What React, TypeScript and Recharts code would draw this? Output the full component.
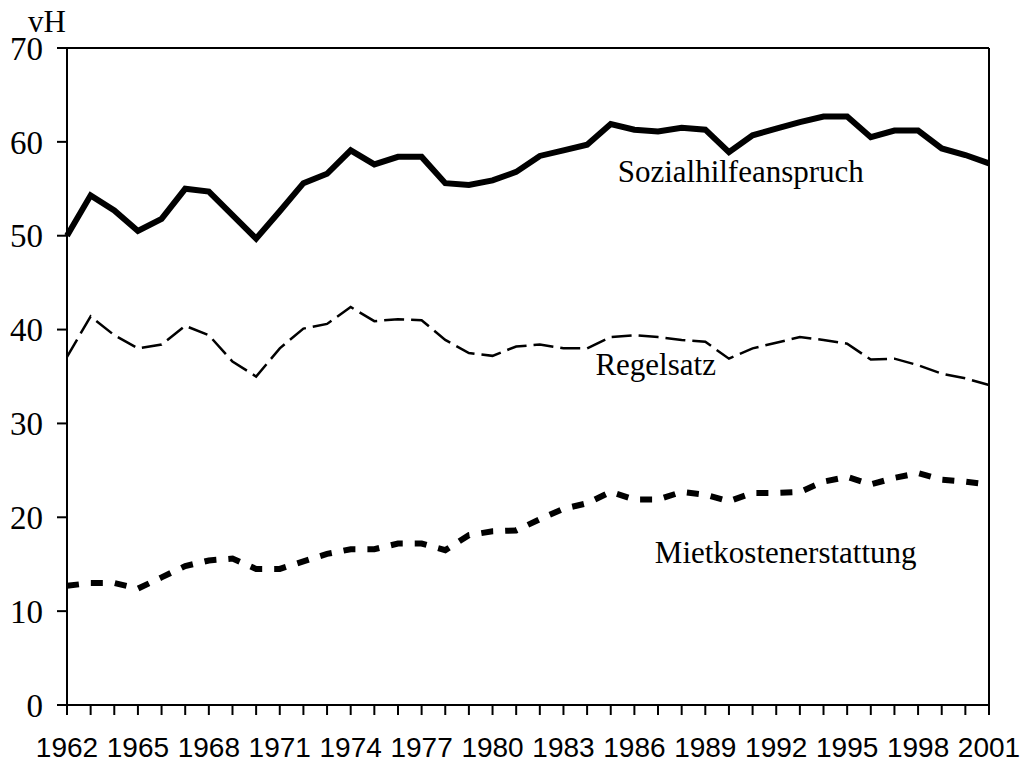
import { LineChart, Line, XAxis, YAxis, ReferenceLine, ReferenceDot } from "recharts";

const years = [
  1962, 1963, 1964, 1965, 1966, 1967, 1968, 1969, 1970, 1971, 1972, 1973, 1974,
  1975, 1976, 1977, 1978, 1979, 1980, 1981, 1982, 1983, 1984, 1985, 1986, 1987,
  1988, 1989, 1990, 1991, 1992, 1993, 1994, 1995, 1996, 1997, 1998, 1999, 2000,
  2001,
];

const sozialhilfeanspruch = [
  50.0, 54.3, 52.7, 50.5, 51.8, 55.0, 54.7, 52.2, 49.7, 52.6, 55.6, 56.6, 59.1,
  57.6, 58.4, 58.4, 55.6, 55.4, 55.9, 56.8, 58.5, 59.1, 59.7, 61.9, 61.3, 61.1,
  61.5, 61.3, 58.9, 60.7, 61.4, 62.1, 62.7, 62.7, 60.5, 61.2, 61.2, 59.3, 58.6,
  57.7,
];

const regelsatz = [
  37.1, 41.4, 39.4, 38.0, 38.4, 40.4, 39.4, 36.6, 35.0, 38.0, 40.1, 40.6, 42.4,
  40.9, 41.1, 41.0, 38.9, 37.5, 37.2, 38.2, 38.4, 38.0, 38.0, 39.2, 39.4, 39.2,
  38.9, 38.7, 36.9, 38.0, 38.6, 39.2, 38.9, 38.5, 36.8, 36.9, 36.2, 35.3, 34.8,
  34.1,
];

const mietkostenerstattung = [
  12.7, 13.0, 13.0, 12.4, 13.6, 14.8, 15.4, 15.6, 14.5, 14.5, 15.3, 16.1, 16.6,
  16.6, 17.2, 17.2, 16.5, 18.1, 18.5, 18.6, 19.8, 20.9, 21.5, 22.7, 21.9, 21.9,
  22.7, 22.4, 21.7, 22.6, 22.6, 22.7, 23.8, 24.3, 23.5, 24.2, 24.7, 24.0, 23.8,
  23.5,
];

const labelYears = [1962, 1965, 1968, 1971, 1974, 1977, 1980, 1983, 1986, 1989, 1992, 1995, 1998, 2001];
const yTicks = [0, 10, 20, 30, 40, 50, 60, 70];

const data = years.map((year, i) => ({
  year,
  sozial: sozialhilfeanspruch[i],
  regel: regelsatz[i],
  miet: mietkostenerstattung[i],
}));

const SERIF = "'Liberation Serif', 'Times New Roman', serif";
const SANS = "'Liberation Sans', Arial, sans-serif";

const seriesLabel = (text: string) => (props: any) => {
  const { viewBox } = props;
  return (
    <text
      x={viewBox.x + viewBox.width / 2}
      y={viewBox.y + viewBox.height / 2}
      dy={11}
      textAnchor="middle"
      fontFamily={SERIF}
      fontSize={31}
      fill="#000"
    >
      {text}
    </text>
  );
};

export default function App() {
  return (
    <div style={{ position: "absolute", left: 0, top: 0 }}>
      <LineChart
        width={1034}
        height={767}
        data={data}
        margin={{ top: 48, right: 45, bottom: 0, left: 0 }}
      >
        <XAxis
          dataKey="year"
          type="number"
          domain={[1962, 2001]}
          ticks={years}
          interval={0}
          height={62}
          tickSize={10}
          tickMargin={22}
          tickFormatter={(v: number) => (labelYears.includes(v) ? String(v) : "")}
          stroke="#000"
          strokeWidth={2}
          tick={{ fill: "#000", fontFamily: SANS, fontSize: 28 }}
        />
        <YAxis
          type="number"
          domain={[0, 70]}
          ticks={yTicks}
          interval={0}
          width={67}
          tickSize={10}
          tickMargin={14}
          stroke="#000"
          strokeWidth={2}
          tick={{ fill: "#000", fontFamily: SERIF, fontSize: 33 }}
          label={{
            content: () => (
              <text x={28} y={32} fontFamily={SERIF} fontSize={31} fill="#000">
                vH
              </text>
            ),
          }}
        />
        <ReferenceLine y={70} stroke="#000" strokeWidth={2} />
        <ReferenceLine x={2001} stroke="#000" strokeWidth={2} />
        <Line
          dataKey="sozial"
          type="linear"
          stroke="#000"
          strokeWidth={6}
          dot={false}
          isAnimationActive={false}
        />
        <Line
          dataKey="regel"
          type="linear"
          stroke="#000"
          strokeWidth={2.5}
          strokeDasharray="20 7"
          dot={false}
          isAnimationActive={false}
        />
        <Line
          dataKey="miet"
          type="linear"
          stroke="#000"
          strokeWidth={6}
          strokeDasharray="12 12"
          dot={false}
          isAnimationActive={false}
        />
        <ReferenceDot x={1990.5} y={56.9} r={0} fill="none" stroke="none" label={{ content: seriesLabel("Sozialhilfeanspruch") }} />
        <ReferenceDot x={1986.9} y={36.3} r={0} fill="none" stroke="none" label={{ content: seriesLabel("Regelsatz") }} />
        <ReferenceDot x={1992.4} y={16.3} r={0} fill="none" stroke="none" label={{ content: seriesLabel("Mietkostenerstattung") }} />
      </LineChart>
    </div>
  );
}
